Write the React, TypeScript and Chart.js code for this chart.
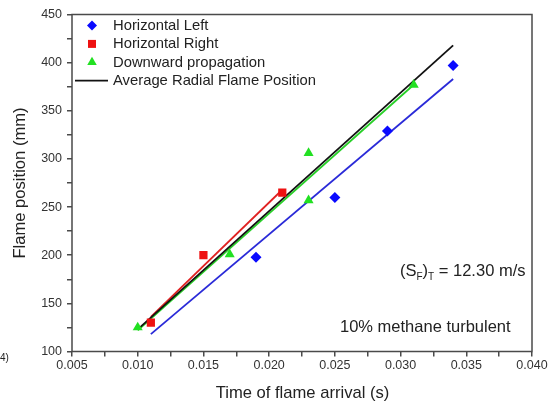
import React, { useEffect, useRef } from 'react';
import { Chart, registerables } from 'chart.js';

Chart.register(...registerables);

// ---- data ----
const leftX = [0.019, 0.025, 0.029, 0.034];
const leftY = [198, 260, 329, 397];
const rightX = [0.011, 0.015, 0.021];
const rightY = [130, 200, 265];
const downX = [0.010, 0.017, 0.023, 0.023, 0.031];
const downY = [125, 201, 306, 257, 377];

const leftFitX = [0.011, 0.034];
const leftFitY = [118, 383];
const rightFitX = [0.011, 0.021];
const rightFitY = [136, 268];
const downFitX = [0.010, 0.031];
const downFitY = [122, 377];
const avgFitX = [0.010, 0.034];
const avgFitY = [123, 418];

const xTickValues = [0.005, 0.01, 0.015, 0.02, 0.025, 0.03, 0.035, 0.04];
const xTickLabels = ['0.005', '0.010', '0.015', '0.020', '0.025', '0.030', '0.035', '0.040'];
const yTickValues = [100, 150, 200, 250, 300, 350, 400, 450];
const yTickLabels = ['100', '150', '200', '250', '300', '350', '400', '450'];

const xTitle = 'Time of flame arrival (s)';
const yTitle = 'Flame position (mm)';
const note1 = ['(S', 'F', ')', 'T', ' = 12.30 m/s'];
const note2 = '10% methane turbulent';

const FONT = '"Liberation Sans", Arial, Helvetica, sans-serif';
const AXIS = '#4a4a4a';

const pts = (xs: number[], ys: number[]) => xs.map((x, i) => ({ x, y: ys[i] }));

function labelFor(v: number, vals: number[], labels: string[]) {
  for (let i = 0; i < vals.length; i++) {
    if (Math.abs(vals[i] - v) < 1e-9 * Math.max(1, Math.abs(v)) + 1e-7) return labels[i];
  }
  return '';
}

function drawMarker(ctx: CanvasRenderingContext2D, style: string, cx: number, cy: number, color: string) {
  ctx.fillStyle = color;
  ctx.strokeStyle = color;
  ctx.beginPath();
  if (style === 'rectRot') {
    const r = 5;
    ctx.moveTo(cx, cy - r);
    ctx.lineTo(cx + r, cy);
    ctx.lineTo(cx, cy + r);
    ctx.lineTo(cx - r, cy);
    ctx.closePath();
    ctx.fill();
  } else if (style === 'rect') {
    const s = 4;
    ctx.rect(cx - s, cy - s, 2 * s, 2 * s);
    ctx.fill();
  } else if (style === 'triangle') {
    const r = 5.5;
    ctx.moveTo(cx, cy - r);
    ctx.lineTo(cx + r * 0.866, cy + r * 0.5);
    ctx.lineTo(cx - r * 0.866, cy + r * 0.5);
    ctx.closePath();
    ctx.fill();
  } else {
    ctx.lineWidth = 1.8;
    ctx.moveTo(cx - 17, cy);
    ctx.lineTo(cx + 16, cy);
    ctx.stroke();
  }
}

const overlay = {
  id: 'overlay',
  afterDraw(chart: any) {
    const ctx: CanvasRenderingContext2D = chart.ctx;
    const a = chart.chartArea;
    ctx.save();
    // frame
    ctx.strokeStyle = AXIS;
    ctx.lineWidth = 1.5;
    ctx.strokeRect(a.left, a.top, a.right - a.left, a.bottom - a.top);

    // legend
    const items = chart.data.datasets.filter((d: any) => d.inLegend);
    ctx.font = `14.8px ${FONT}`;
    ctx.textBaseline = 'middle';
    ctx.textAlign = 'left';
    items.forEach((d: any, i: number) => {
      const cy = a.top + 11 + i * 18.4;
      const style = d.showLine ? 'line' : d.pointStyle;
      const color = d.showLine ? d.borderColor : d.backgroundColor;
      drawMarker(ctx, style, a.left + 20, cy, color);
      ctx.fillStyle = '#222';
      ctx.fillText(d.label, a.left + 41, cy + 0.5);
    });

    // annotation 1 with subscripts
    ctx.fillStyle = '#222';
    let x = 400;
    const yb = 276;
    ctx.textBaseline = 'alphabetic';
    note1.forEach((t, i) => {
      const sub = i === 1 || i === 3;
      ctx.font = sub ? `10px ${FONT}` : `16.5px ${FONT}`;
      ctx.fillText(t, x, sub ? yb + 4 : yb);
      x += ctx.measureText(t).width;
    });
    ctx.font = `16.5px ${FONT}`;
    ctx.fillText(note2, 340, 332);

    // axis titles
    ctx.font = `16.6px ${FONT}`;
    ctx.fillStyle = '#222';
    ctx.textAlign = 'center';
    ctx.textBaseline = 'middle';
    ctx.fillText(xTitle, 302.5, 393);
    ctx.save();
    ctx.translate(20, (a.top + a.bottom) / 2);
    ctx.rotate(-Math.PI / 2);
    ctx.fillText(yTitle, 0, 0);
    ctx.restore();

    ctx.font = `10px ${FONT}`;
    ctx.textAlign = 'left';
    ctx.fillText('4)', 0, 358);
    ctx.restore();
  },
};

export default function App() {
  const ref = useRef<HTMLCanvasElement | null>(null);
  useEffect(() => {
    if (!ref.current) return;
    const chart = new Chart(ref.current, {
      type: 'scatter',
      data: {
        datasets: [
          {
            label: 'Horizontal Left', inLegend: true,
            data: pts(leftX, leftY), pointStyle: 'rectRot', pointRadius: 5.5,
            backgroundColor: '#0a0aff', borderColor: '#0a0aff', borderWidth: 0, showLine: false,
          } as any,
          {
            label: 'Horizontal Right', inLegend: true,
            data: pts(rightX, rightY), pointStyle: 'rect', pointRadius: 5.8,
            backgroundColor: '#ee1111', borderColor: '#ee1111', borderWidth: 0, showLine: false,
          } as any,
          {
            label: 'Downward propagation', inLegend: true,
            data: pts(downX, downY), pointStyle: 'triangle', pointRadius: 5.8,
            backgroundColor: '#22e022', borderColor: '#22e022', borderWidth: 0, showLine: false,
          } as any,
          {
            label: 'Average Radial Flame Position', inLegend: true,
            data: pts(avgFitX, avgFitY), showLine: true, pointRadius: 0,
            borderColor: '#111111', backgroundColor: '#111111', borderWidth: 1.8,
          } as any,
          {
            label: 'Left fit', data: pts(leftFitX, leftFitY), showLine: true, pointRadius: 0,
            borderColor: '#2a2ad8', borderWidth: 1.8,
          } as any,
          {
            label: 'Right fit', data: pts(rightFitX, rightFitY), showLine: true, pointRadius: 0,
            borderColor: '#e02222', borderWidth: 1.8,
          } as any,
          {
            label: 'Down fit', data: pts(downFitX, downFitY), showLine: true, pointRadius: 0,
            borderColor: '#28d028', borderWidth: 1.8,
          } as any,
        ],
      },
      options: {
        responsive: false,
        animation: false,
        devicePixelRatio: 1,
        layout: { padding: { top: 14.5, right: 20, left: 0, bottom: 0 } },
        plugins: { legend: { display: false }, tooltip: { enabled: false } },
        scales: {
          x: {
            type: 'linear', min: 0.005, max: 0.04,
            afterFit: (s: any) => { s.height = 53.5; },
            border: { display: false },
            grid: { drawOnChartArea: false, drawTicks: true, tickLength: 5, color: AXIS, lineWidth: 1.5 },
            ticks: {
              stepSize: 0.0025, autoSkip: false, maxRotation: 0, padding: 2,
              color: '#333', font: { size: 12.5, family: FONT },
              callback: (v: any) => labelFor(Number(v), xTickValues, xTickLabels),
            },
          },
          y: {
            type: 'linear', min: 100, max: 450,
            afterFit: (s: any) => { s.width = 72; },
            border: { display: false },
            grid: { drawOnChartArea: false, drawTicks: true, tickLength: 5, color: AXIS, lineWidth: 1.5 },
            ticks: {
              stepSize: 25, autoSkip: false, padding: 5,
              color: '#333', font: { size: 12.5, family: FONT },
              callback: (v: any) => labelFor(Number(v), yTickValues, yTickLabels),
            },
          },
        },
      } as any,
      plugins: [overlay],
    });
    return () => chart.destroy();
  }, []);
  return (
    <div style={{ position: 'fixed', left: 0, top: 0, width: 552, height: 405, background: '#fff' }}>
      <canvas ref={ref} width={552} height={405} style={{ width: 552, height: 405, display: 'block' }} />
    </div>
  );
}
